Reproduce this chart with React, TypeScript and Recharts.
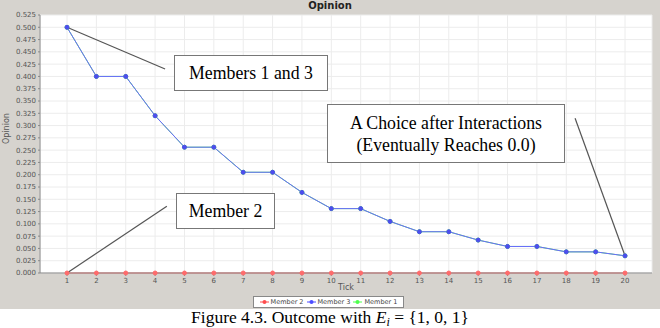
import React from "react";
import {
  LineChart,
  Line,
  XAxis,
  YAxis,
  CartesianGrid,
  ReferenceLine,
} from "recharts";

const ticks = [1, 2, 3, 4, 5, 6, 7, 8, 9, 10, 11, 12, 13, 14, 15, 16, 17, 18, 19, 20];
const member2 = [0, 0, 0, 0, 0, 0, 0, 0, 0, 0, 0, 0, 0, 0, 0, 0, 0, 0, 0, 0];
const member3 = [
  0.5, 0.4, 0.4, 0.32, 0.256, 0.256, 0.205, 0.205, 0.164, 0.131, 0.131, 0.105,
  0.084, 0.084, 0.067, 0.054, 0.054, 0.043, 0.043, 0.035,
];
const member1 = [
  0.5, 0.4, 0.4, 0.32, 0.256, 0.256, 0.205, 0.205, 0.164, 0.131, 0.131, 0.105,
  0.084, 0.084, 0.067, 0.054, 0.054, 0.043, 0.043, 0.035,
];
const yTicks = [
  0, 0.025, 0.05, 0.075, 0.1, 0.125, 0.15, 0.175, 0.2, 0.225, 0.25, 0.275, 0.3,
  0.325, 0.35, 0.375, 0.4, 0.425, 0.45, 0.475, 0.5, 0.525,
];

const data = ticks.map((t, i) => ({
  tick: t,
  m2: member2[i],
  m3: member3[i],
  m1: member1[i],
}));

const legendItems = [
  { name: "Member 2", color: "#ff4d4d" },
  { name: "Member 3", color: "#4d4dff" },
  { name: "Member 1", color: "#4dff4d" },
];

const font = "'DejaVu Sans', sans-serif";
const serif = "'Liberation Serif', 'Times New Roman', serif";

const boxStyle: React.CSSProperties = {
  position: "absolute",
  background: "#fff",
  border: "1px solid #777",
  fontFamily: serif,
  fontSize: 17.8,
  color: "#000",
  display: "flex",
  flexDirection: "column",
  alignItems: "center",
  justifyContent: "center",
  lineHeight: "22px",
  boxSizing: "border-box",
  whiteSpace: "nowrap",
};

export default function App() {
  return (
    <div style={{ position: "relative", width: 660, height: 328, background: "#fff", overflow: "hidden" }}>
      <style>{"body{margin:0}"}</style>
      <div style={{ position: "absolute", left: 0, top: 0, width: 660, height: 309, background: "#d6d3ce" }} />
      <div
        style={{
          position: "absolute",
          left: 0,
          top: 0,
          width: 660,
          textAlign: "center",
          fontFamily: font,
          fontWeight: "bold",
          fontSize: 10,
          lineHeight: "12px",
          color: "#222",
        }}
      >
        Opinion
      </div>
      <div style={{ position: "absolute", left: 0, top: 0 }}>
        <LineChart width={660} height={309} data={data} margin={{ top: 15, right: 8, left: 0, bottom: 16 }}>
          <CartesianGrid stroke="#ececec" fill="#fff" />
          <XAxis
            dataKey="tick"
            type="number"
            domain={[1, 20]}
            ticks={ticks}
            padding={{ left: 27, right: 27 }}
            height={20}
            tick={{ fontSize: 7, fill: "#555", fontFamily: font }}
            tickLine={{ stroke: "#888" }}
            axisLine={{ stroke: "#888" }}
            tickSize={3}
          />
          <YAxis
            domain={[0, 0.525]}
            ticks={yTicks}
            width={40}
            interval={0}
            tickFormatter={(v: number) => v.toFixed(3)}
            tick={{ fontSize: 7, fill: "#555", fontFamily: font }}
            tickLine={{ stroke: "#888" }}
            axisLine={{ stroke: "#888" }}
            tickSize={2}
            label={{ value: "Opinion", angle: -90, position: "insideLeft", offset: 6, fontSize: 8, fill: "#555", fontFamily: font }}
          />
          <Line
            dataKey="m1"
            stroke="#55ee55"
            strokeWidth={1}
            dot={{ r: 2, fill: "#55ee55", stroke: "#55ee55" }}
            isAnimationActive={false}
          />
          <Line
            dataKey="m3"
            stroke="#6a6aff"
            strokeWidth={1}
            dot={{ r: 2, fill: "#4d4dee", stroke: "#4d4dee" }}
            isAnimationActive={false}
          />
          <Line
            dataKey="m2"
            stroke="#ff5a5a"
            strokeWidth={1}
            dot={{ r: 2, fill: "#ff6b6b", stroke: "#ff6b6b" }}
            isAnimationActive={false}
          />
          <ReferenceLine
            segment={[{ x: 1, y: 0.5 }, { x: 4.34, y: 0.415 }]}
            stroke="#555"
            strokeWidth={1.2}
            ifOverflow="visible"
          />
          <ReferenceLine
            segment={[{ x: 1, y: 0 }, { x: 4.4, y: 0.136 }]}
            stroke="#555"
            strokeWidth={1.2}
            ifOverflow="visible"
          />
          <ReferenceLine
            segment={[{ x: 18.3, y: 0.315 }, { x: 20, y: 0.035 }]}
            stroke="#555"
            strokeWidth={1.2}
            ifOverflow="visible"
          />
        </LineChart>
      </div>
      <div
        style={{
          position: "absolute",
          left: 40,
          top: 283,
          width: 612,
          textAlign: "center",
          fontFamily: font,
          fontSize: 8,
          lineHeight: "10px",
          color: "#555",
        }}
      >
        Tick
      </div>
      <div style={{ ...boxStyle, left: 174, top: 55, width: 154, height: 36 }}>Members 1 and 3</div>
      <div style={{ ...boxStyle, left: 176, top: 193, width: 99, height: 36 }}>Member 2</div>
      <div style={{ ...boxStyle, left: 327, top: 104, width: 238, height: 59 }}>
        <div>A Choice after Interactions</div>
        <div>(Eventually Reaches 0.0)</div>
      </div>
      <div
        style={{
          position: "absolute",
          left: 253,
          top: 296,
          width: 151,
          height: 12,
          boxSizing: "border-box",
          border: "1px solid #888",
          background: "#fff",
          display: "flex",
          alignItems: "center",
          justifyContent: "center",
          gap: 3,
          fontFamily: font,
          fontSize: 6.5,
          lineHeight: "8px",
          color: "#444",
          whiteSpace: "nowrap",
        }}
      >
        {legendItems.map((it) => (
          <span key={it.name} style={{ display: "flex", alignItems: "center", gap: 2 }}>
            <svg width={9} height={6}>
              <line x1={0} y1={3} x2={9} y2={3} stroke={it.color} />
              <circle cx={4.5} cy={3} r={2} fill={it.color} />
            </svg>
            {it.name}
          </span>
        ))}
      </div>
      <div
        style={{
          position: "absolute",
          left: 0,
          top: 308,
          width: 660,
          textAlign: "center",
          fontFamily: serif,
          fontSize: 17.5,
          lineHeight: "19px",
          color: "#000",
          whiteSpace: "nowrap",
        }}
      >
        Figure 4.3. Outcome with <i>E</i>
        <i style={{ fontSize: 12, position: "relative", top: 3 }}>i</i> = {"{"}1, 0, 1{"}"}
      </div>
    </div>
  );
}
